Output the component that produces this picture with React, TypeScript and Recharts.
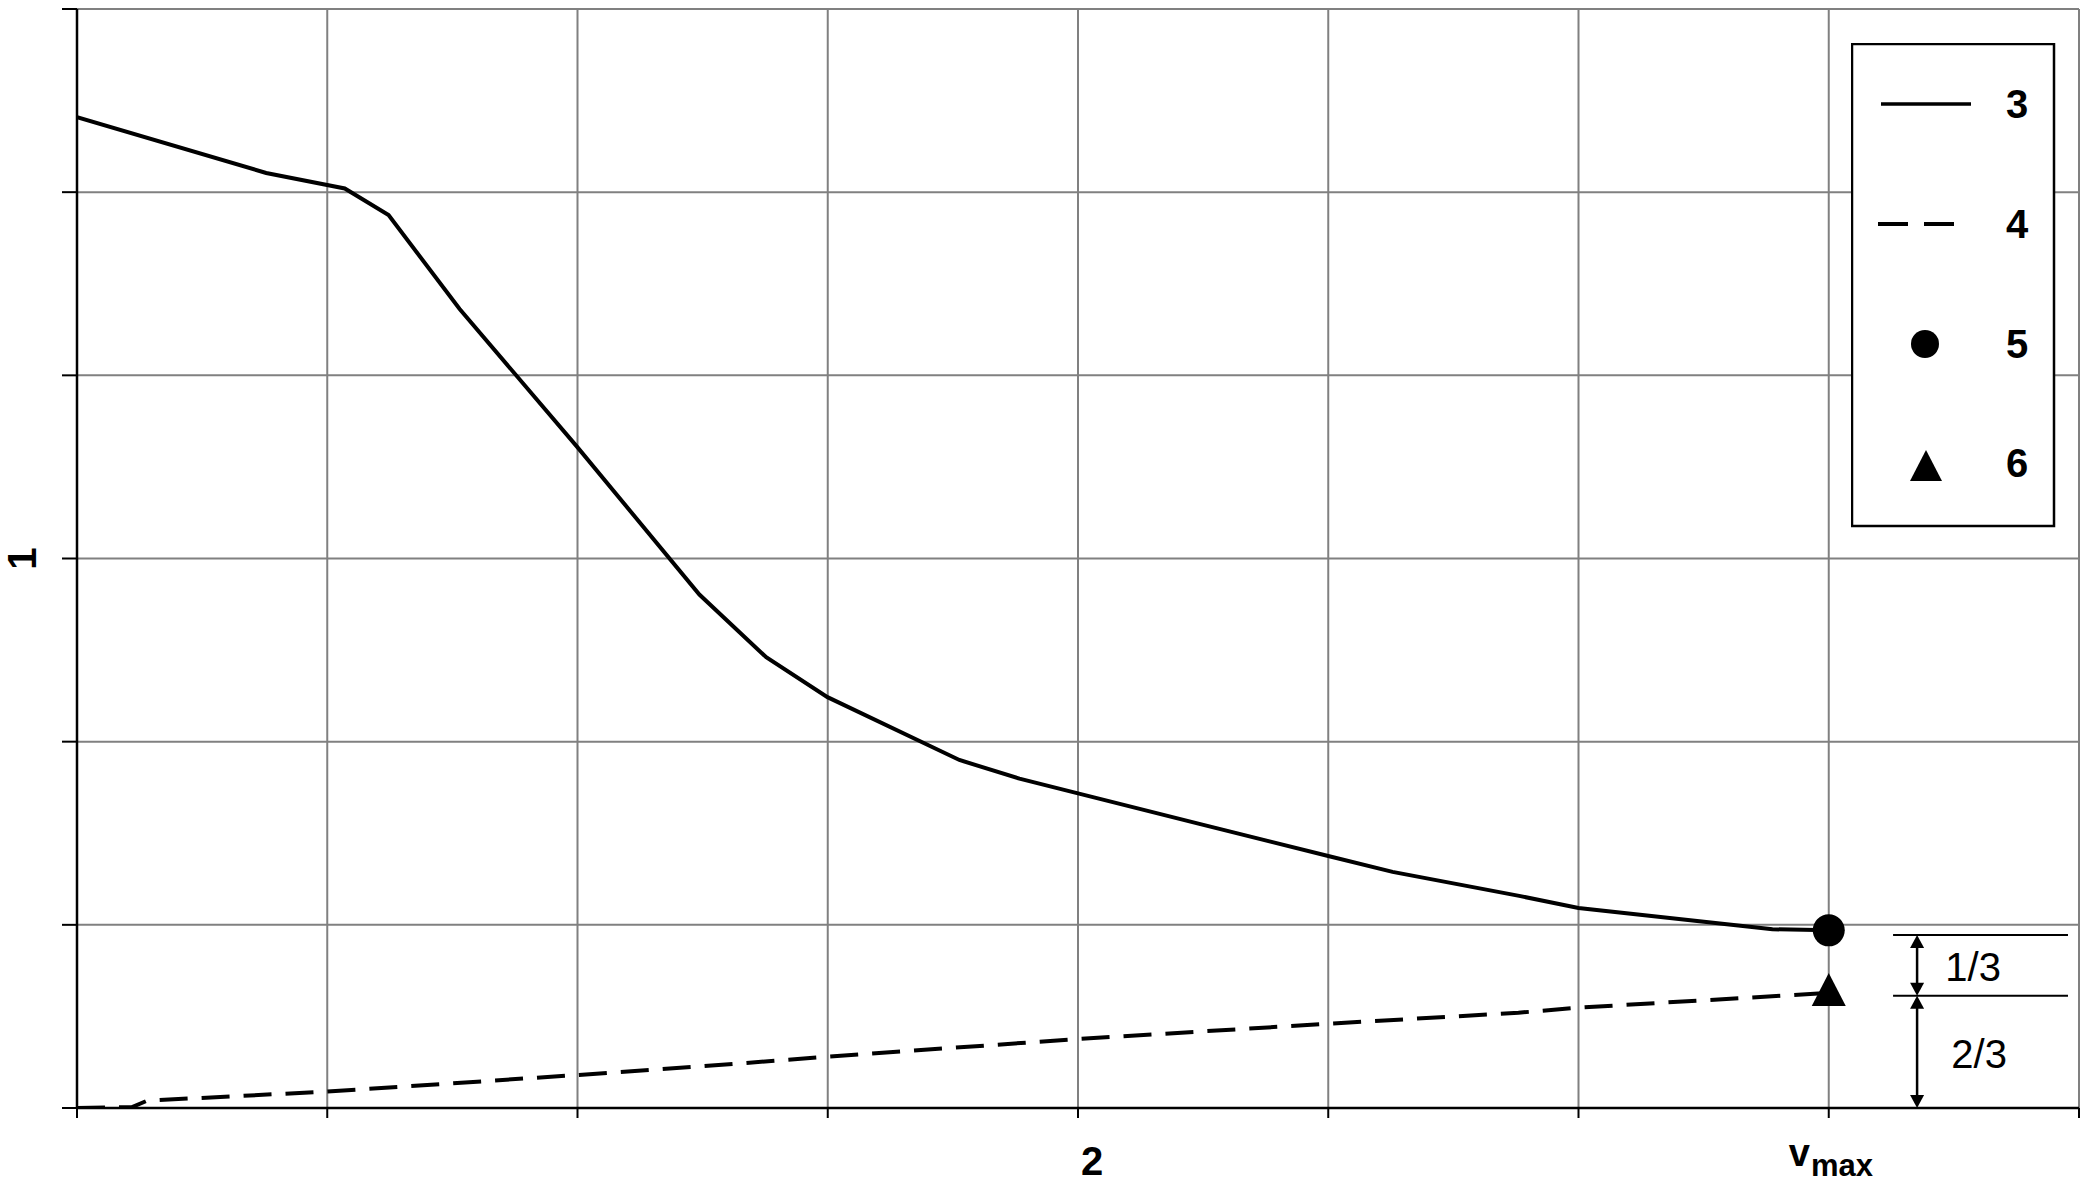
import {
  ComposedChart,
  Line,
  Scatter,
  XAxis,
  YAxis,
  CartesianGrid,
  ReferenceLine,
  Legend,
} from "recharts";

const FONT = "'Liberation Sans', Arial, sans-serif";

// curve 3 (solid line)
const curve3V = [0, 0.756, 1.07, 1.245, 1.529, 1.997, 2.487, 2.754, 2.999, 3.526, 3.766, 4, 4.485, 5, 5.257, 5.763, 6, 6.775, 7];
const curve3Y = [5.41, 5.105, 5.02, 4.875, 4.362, 3.612, 2.803, 2.461, 2.243, 1.9, 1.798, 1.718, 1.551, 1.376, 1.289, 1.158, 1.092, 0.976, 0.97];

// curve 4 (dashed line)
const curve4V = [0, 0.22, 0.28, 1, 2, 2.47, 3, 4, 5, 5.76, 6, 7];
const curve4Y = [0, 0.005, 0.04, 0.09, 0.18, 0.225, 0.28, 0.377, 0.46, 0.52, 0.548, 0.628];

// points 5 and 6 at v max
const point5 = [{ v: 7, y: 0.97 }];
const point6 = [{ v: 7, y: 0.628 }];

const xTicks = [0, 1, 2, 3, 4, 5, 6, 7, 8];
const yTicks = [0, 1, 2, 3, 4, 5, 6];
const legendLabels = ["3", "4", "5", "6"];

// share brackets on the right: top level, split level, axis
const shareLevels = [0.944, 0.613, 0];
const shareLabels = ["1/3", "2/3"];
const shareLineX = [7.257, 7.956];
const shareArrowX = 7.353;

const curve3 = curve3V.map((v, i) => ({ v, y: curve3Y[i] }));
const curve4 = curve4V.map((v, i) => ({ v, y: curve4Y[i] }));

const Dot5 = (p: any) => <circle cx={p.cx} cy={p.cy} r={16} fill="#000" />;
const Tri6 = (p: any) => (
  <polygon
    points={`${p.cx},${p.cy - 20} ${p.cx - 17},${p.cy + 13} ${p.cx + 17},${p.cy + 13}`}
    fill="#000"
  />
);

function ArrowSpan(props: any) {
  const { x1, y1, y2, text, dx } = props;
  const top = Math.min(y1, y2);
  const bot = Math.max(y1, y2);
  const h = 13;
  const w = 7;
  return (
    <g>
      <line x1={x1} y1={top + 4} x2={x1} y2={bot - 4} stroke="#000" strokeWidth={2.5} />
      <polygon points={`${x1},${top} ${x1 - w},${top + h} ${x1 + w},${top + h}`} fill="#000" />
      <polygon points={`${x1},${bot} ${x1 - w},${bot - h} ${x1 + w},${bot - h}`} fill="#000" />
      <text
        x={x1 + dx}
        y={(top + bot) / 2 + 16}
        textAnchor="middle"
        fontFamily={FONT}
        fontSize={40}
        fill="#000"
      >
        {text}
      </text>
    </g>
  );
}

const XTick = (p: any) => {
  if (p.payload.value !== 7) return <g />;
  return (
    <text x={p.x - 40} y={p.y + 46} fontFamily={FONT} fontWeight="bold" fill="#000">
      <tspan fontSize={38}>v</tspan>
      <tspan fontSize={31} dx={1} dy={10}>
        max
      </tspan>
    </text>
  );
};

function LegendBox() {
  const rows = [61, 181, 301, 420];
  return (
    <svg width={206} height={486} style={{ display: "block" }}>
      <rect x={1} y={1} width={202} height={482} fill="#fff" stroke="#000" strokeWidth={2.5} />
      <line x1={30} y1={rows[0]} x2={120} y2={rows[0]} stroke="#000" strokeWidth={3.5} />
      <line x1={27} y1={rows[1]} x2={57} y2={rows[1]} stroke="#000" strokeWidth={4} />
      <line x1={73} y1={rows[1]} x2={103} y2={rows[1]} stroke="#000" strokeWidth={4} />
      <circle cx={74} cy={rows[2]} r={14} fill="#000" />
      <polygon points={`75,${rows[3] - 13} 59,${rows[3] + 18} 91,${rows[3] + 18}`} fill="#000" />
      {legendLabels.map((t, i) => (
        <text
          key={t}
          x={166}
          y={rows[i] + 14}
          textAnchor="middle"
          fontFamily={FONT}
          fontWeight="bold"
          fontSize={40}
          fill="#000"
        >
          {t}
        </text>
      ))}
    </svg>
  );
}

export default function App() {
  return (
    <div style={{ position: "absolute", left: 0, top: 0, width: 2086, height: 1184, background: "#fff" }}>
      <ComposedChart width={2086} height={1184} margin={{ top: 9, right: 7, bottom: 0, left: 0 }}>
        <CartesianGrid stroke="#808080" strokeWidth={2} />
        <XAxis
          type="number"
          dataKey="v"
          domain={[0, 8]}
          ticks={xTicks}
          allowDataOverflow
          height={76}
          tickSize={10}
          axisLine={{ stroke: "#000", strokeWidth: 2.5 }}
          tickLine={{ stroke: "#000", strokeWidth: 2 }}
          tick={<XTick />}
          label={{
            content: (p: any) => (
              <text
                x={p.viewBox.x + p.viewBox.width / 2 + 14}
                y={1175}
                textAnchor="middle"
                fontFamily={FONT}
                fontWeight="bold"
                fontSize={40}
                fill="#000"
              >
                2
              </text>
            ),
          }}
        />
        <YAxis
          type="number"
          domain={[0, 6]}
          ticks={yTicks}
          allowDataOverflow
          width={77}
          tickSize={15}
          axisLine={{ stroke: "#000", strokeWidth: 2.5 }}
          tickLine={{ stroke: "#000", strokeWidth: 2 }}
          tick={() => <g />}
          label={{
            content: (p: any) => (
              <text
                x={22}
                y={p.viewBox.y + p.viewBox.height / 2}
                textAnchor="middle"
                dominantBaseline="central"
                transform={`rotate(-90 22 ${p.viewBox.y + p.viewBox.height / 2})`}
                fontFamily={FONT}
                fontWeight="bold"
                fontSize={40}
                fill="#000"
              >
                1
              </text>
            ),
          }}
        />
        <Line
          data={curve3}
          dataKey="y"
          type="linear"
          stroke="#000"
          strokeWidth={4}
          dot={false}
          activeDot={false}
          isAnimationActive={false}
          legendType="none"
        />
        <Line
          data={curve4}
          dataKey="y"
          type="linear"
          stroke="#000"
          strokeWidth={4}
          strokeDasharray="28 14"
          dot={false}
          activeDot={false}
          isAnimationActive={false}
          legendType="none"
        />
        <Scatter data={point5} dataKey="y" shape={<Dot5 />} isAnimationActive={false} legendType="none" />
        <Scatter data={point6} dataKey="y" shape={<Tri6 />} isAnimationActive={false} legendType="none" />
        {shareLevels.slice(0, 2).map((lv) => (
          <ReferenceLine
            key={lv}
            segment={[
              { x: shareLineX[0], y: lv },
              { x: shareLineX[1], y: lv },
            ]}
            stroke="#000"
            strokeWidth={2}
          />
        ))}
        {shareLabels.map((t, i) => (
          <ReferenceLine
            key={t}
            segment={[
              { x: shareArrowX, y: shareLevels[i] },
              { x: shareArrowX, y: shareLevels[i + 1] },
            ]}
            shape={(p: any) => <ArrowSpan {...p} text={t} dx={i === 0 ? 56 : 62} />}
          />
        ))}
        <Legend
          layout="vertical"
          align="center"
          verticalAlign="middle"
          content={() => <LegendBox />}
          wrapperStyle={{ left: 1851, top: 43, width: 206, height: 486 }}
        />
      </ComposedChart>
    </div>
  );
}
